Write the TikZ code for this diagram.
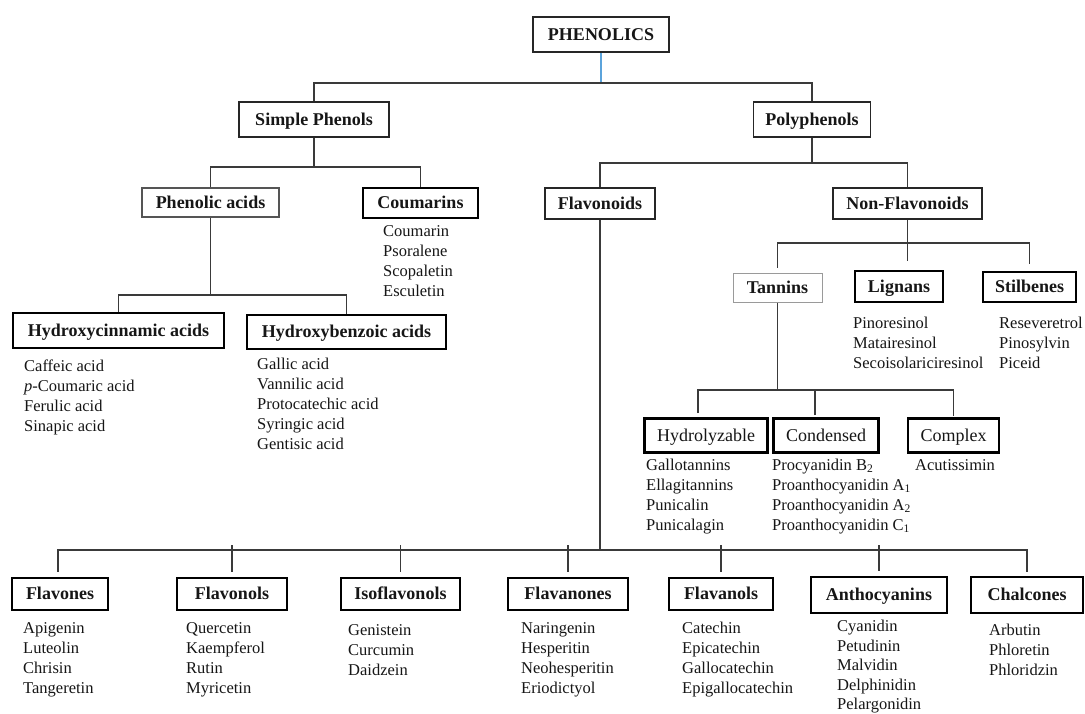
\documentclass[tikz,border=0pt]{standalone}
\usepackage{fontspec}
\setmainfont{Liberation Serif}
\definecolor{linec}{HTML}{3A3A3A}
\definecolor{txt}{HTML}{161616}
\definecolor{blueln}{HTML}{5BA3DB}
\definecolor{thinbox}{HTML}{555555}
\definecolor{lightbox}{HTML}{9A9A9A}
\tikzset{
  conn/.style={draw=linec, line width=1.5pt},
  bx/.style={draw, inner sep=0pt, text=txt, text height=12.5pt, text depth=1.5pt,
             font=\fontsize{18}{20}\selectfont\bfseries},
  bxm/.style={bx, line width=1.8pt, draw=black!85},
  bxk/.style={bx, line width=2.6pt, draw=black},
  bxt/.style={bx, line width=1.3pt, draw=thinbox},
  bxl/.style={bx, line width=1pt, draw=lightbox},
  regular/.style={font=\fontsize{18}{20}\selectfont},
  lst/.style={anchor=north west, inner sep=0pt, align=left, text=txt, font=\fontsize{16.5}{20}\selectfont},
}
\begin{document}
\begin{tikzpicture}[x=1pt,y=-1pt]
\useasboundingbox[fill=white] (0,0) rectangle (1085,713);

% ---------- boxes ----------
\node[bxm, minimum width=136pt, minimum height=35pt] (phen) at (601,34.5) {PHENOLICS};
\node[bxm, minimum width=150pt, minimum height=35pt] (sp) at (314,119.5) {Simple Phenols};
\node[bxm, minimum width=117pt, minimum height=35pt] (pp) at (812,119.5) {Polyphenols};

\node[bxt, minimum width=137pt, minimum height=29pt] (pa) at (210.5,202.5) {Phenolic acids};
\node[bxk, minimum width=115pt, minimum height=30pt] (cou) at (420.5,203) {Coumarins};
\node[bxm, minimum width=110pt, minimum height=31pt] (fl) at (600,203.5) {Flavonoids};
\node[bxm, minimum width=149pt, minimum height=31pt] (nf) at (907.5,203.5) {Non-Flavonoids};

\node[bxk, minimum width=211pt, minimum height=35pt] (hc) at (118.5,330.5) {Hydroxycinnamic acids};
\node[bxk, minimum width=199pt, minimum height=34pt] (hb) at (346.5,332) {Hydroxybenzoic acids};

\node[bxl, minimum width=89pt, minimum height=29pt] (tan) at (777.5,287.5) {Tannins};
\node[bxk, minimum width=88pt, minimum height=31pt] (lg) at (899,286.5) {Lignans};
\node[bxk, minimum width=93pt, minimum height=30pt] (st) at (1029.5,287) {Stilbenes};

\node[bxk, regular, minimum width=123pt, minimum height=34pt] (hy) at (706,435.5) {Hydrolyzable};
\node[bxk, regular, minimum width=105pt, minimum height=34pt] (cd) at (826,435.5) {Condensed};
\node[bxk, regular, minimum width=91pt, minimum height=34pt] (cx) at (953.5,435.5) {Complex};

\node[bxk, minimum width=96pt, minimum height=32pt] (fv) at (60,594) {Flavones};
\node[bxk, minimum width=110pt, minimum height=32pt] (fo) at (232,594) {Flavonols};
\node[bxk, minimum width=119pt, minimum height=32pt] (iso) at (400.5,594) {Isoflavonols};
\node[bxk, minimum width=120pt, minimum height=32pt] (fn) at (568,594) {Flavanones};
\node[bxk, minimum width=104pt, minimum height=32pt] (fa) at (721,594) {Flavanols};
\node[bxk, minimum width=136pt, minimum height=36pt] (an) at (879,595) {Anthocyanins};
\node[bxk, minimum width=112pt, minimum height=36pt] (ch) at (1027,595) {Chalcones};

% ---------- lists ----------
\node[lst] (coul) at (383,222) {\strut Coumarin\\Psoralene\\Scopaletin\\Esculetin};
\node[lst] (hcl) at (24,357) {\strut Caffeic acid\\\textit{p}-Coumaric acid\\Ferulic acid\\Sinapic acid};
\node[lst] (hbl) at (257,355) {\strut Gallic acid\\Vannilic acid\\Protocatechic acid\\Syringic acid\\Gentisic acid};
\node[lst] (lgl) at (853,314) {\strut Pinoresinol\\Matairesinol\\Secoisolariciresinol};
\node[lst] (stl) at (999,314) {\strut Reseveretrol\\Pinosylvin\\Piceid};
\node[lst] (hyl) at (646,456) {\strut Gallotannins\\Ellagitannins\\Punicalin\\Punicalagin};
\node[lst] (cdl) at (772,456) {\strut Procyanidin B\textsubscript{2}\\Proanthocyanidin A\textsubscript{1}\\Proanthocyanidin A\textsubscript{2}\\Proanthocyanidin C\textsubscript{1}};
\node[lst] (cxl) at (915,456) {\strut Acutissimin};
\node[lst] (fvl) at (23,619) {\strut Apigenin\\Luteolin\\Chrisin\\Tangeretin};
\node[lst] (fol) at (186,619) {\strut Quercetin\\Kaempferol\\Rutin\\Myricetin};
\node[lst] (isol) at (348,621) {\strut Genistein\\Curcumin\\Daidzein};
\node[lst] (fnl) at (521,619) {\strut Naringenin\\Hesperitin\\Neohesperitin\\Eriodictyol};
\node[lst] (fal) at (682,619) {\strut Catechin\\Epicatechin\\Gallocatechin\\Epigallocatechin};
\node[lst, font=\fontsize{16.5}{19.5}\selectfont] (anl) at (837,618) {\strut Cyanidin\\Petudinin\\Malvidin\\Delphinidin\\Pelargonidin};
\node[lst] (chl) at (989,621) {\strut Arbutin\\Phloretin\\Phloridzin};

% ---------- bus levels ----------
\coordinate (y1) at (0,83);
\coordinate (y2a) at (0,167);
\coordinate (y2b) at (0,163);
\coordinate (y3a) at (0,295);
\coordinate (y3b) at (0,243);
\coordinate (y3c) at (0,261);
\coordinate (y4) at (0,390);
\coordinate (y5) at (0,550);

% ---------- connectors ----------
\draw[draw=blueln, line width=1.5pt] (phen.south) -- (phen.south |- y1);
\draw[conn] (sp.north) -- (sp.north |- y1) -- (pp.north |- y1) -- (pp.north);

\draw[conn] (sp.south) -- (sp.south |- y2a);
\draw[conn] (pa.north) -- (pa.north |- y2a) -- (cou.north |- y2a) -- (cou.north);

\draw[conn] (pp.south) -- (pp.south |- y2b);
\draw[conn] (fl.north) -- (fl.north |- y2b) -- (nf.north |- y2b) -- (nf.north);

\draw[conn] (pa.south) -- (pa.south |- y3a);
\draw[conn] (hc.north) -- (hc.north |- y3a) -- (hb.north |- y3a) -- (hb.north);

\coordinate (tanT) at ([yshift=5pt]tan.north);
\coordinate (stT) at ([yshift=7pt]st.north);
\draw[conn] (nf.south) -- (nf.south |- y3c);
\draw[conn] (tanT) -- (tanT |- y3b) -- (stT |- y3b) -- (stT);

\coordinate (hyT) at ([xshift=-8pt,yshift=4pt]hy.north);
\coordinate (cdT) at ([xshift=-11pt,yshift=2pt]cd.north);
\coordinate (cxT) at ([yshift=1pt]cx.north);
\draw[conn] (tan.south) -- (tan.south |- y4);
\draw[conn] (hyT) -- (hyT |- y4) -- (cxT |- y4) -- (cxT);
\draw[conn] (cdT) -- (cdT |- y4);

\draw[conn] (fl.south) -- (fl.south |- y5);
\coordinate (fvT) at ([xshift=-2pt,yshift=5pt]fv.north);
\coordinate (chT) at ([yshift=4pt]ch.north);
\draw[conn] (fvT) -- (fvT |- y5) -- (chT |- y5) -- (chT);
\foreach \n in {fo,iso,fn,fa,an}{
  \draw[conn] ([yshift=5pt]\n.north) -- ([yshift=5pt]\n.north |- y5);
}
\end{tikzpicture}
\end{document}
